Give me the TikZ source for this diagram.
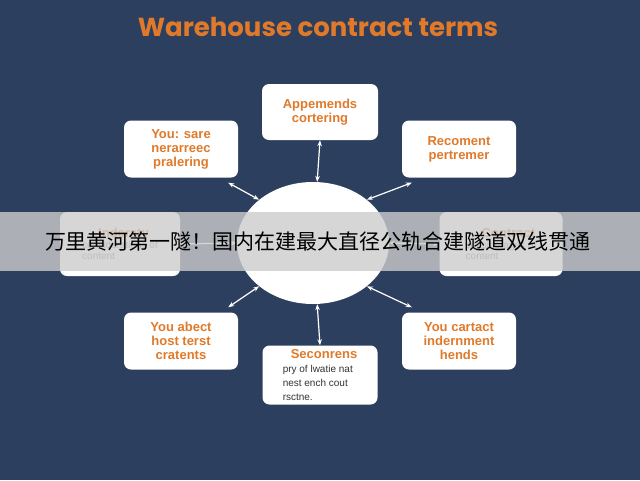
\documentclass[tikz,border=0pt]{standalone}
\usepackage{fontspec}
\setmainfont{Liberation Sans}
\newfontfamily\titlefont{Poppins}
\newfontfamily\cjk{Noto Sans CJK SC}
\usetikzlibrary{arrows.meta,shapes.geometric}
\definecolor{navy}{HTML}{2D3F5E}
\definecolor{org}{HTML}{E07A2A}
\definecolor{dk}{HTML}{333333}
\begin{document}
\begin{tikzpicture}[x=1pt,y=-1pt,
 box/.style={draw=none,fill=white,rounded corners=7pt,align=center,font=\bfseries\fontsize{13}{14}\selectfont,text=org,inner sep=0pt},
 link/.style={white,line width=1.2pt,{Stealth[length=6pt]}-{Stealth[length=6pt]}}]
\fill[navy] (0,0) rectangle (640,480);
\useasboundingbox (0,0) rectangle (640,480);
\node[font=\titlefont\bfseries\fontsize{26}{28}\selectfont,text=org] (title) at (318,27) {Warehouse contract terms};
\node[fill=white,ellipse,minimum width=152,minimum height=122,inner sep=0pt,draw=none] (c) at (313,243) {};
\node[box,minimum width=116,minimum height=56] (t) at (320,112) {Appemends\\cortering};
\node[box,minimum width=114,minimum height=57] (tl) at (181,149) {You: sare\\nerarreec\\pralering};
\node[box,minimum width=114,minimum height=57] (tr) at (459,149) {Recoment\\pertremer};
\node[box,minimum width=120,minimum height=64,align=left,font=\fontsize{10}{11}\selectfont] (l) at (120,244) {\hspace*{16pt}{\bfseries\fontsize{13}{14}\selectfont Inderaty}\\\textcolor{gray}{considerations of}\\\textcolor{gray}{content}};
\node[box,minimum width=123,minimum height=64,align=left,font=\fontsize{10}{11}\selectfont] (r) at (501,244) {\hspace*{16pt}{\bfseries\fontsize{13}{14}\selectfont Contract}\\\textcolor{gray}{considerages of}\\\textcolor{gray}{content}};
\node[box,minimum width=114,minimum height=57] (bl) at (181,341) {You abect\\host terst\\cratents};
\node[box,minimum width=114,minimum height=57] (br) at (459,341) {You cartact\\indernment\\hends};
\node[box,minimum width=115,minimum height=59,align=left] (b) at (320,375) {\hspace*{8pt}Seconrens\\{\normalfont\fontsize{10}{11}\selectfont\color{dk}pry of lwatie nat}\\{\normalfont\fontsize{10}{11}\selectfont\color{dk}nest ench cout}\\{\normalfont\fontsize{10}{11}\selectfont\color{dk}rsctne.}};
\draw[link] (t.south) -- (c);
\path (tl.south east) ++(-10,5) coordinate (a1);
\path (tr.south west) ++(10,5) coordinate (a2);
\path (bl.north east) ++(-10,-5) coordinate (a3);
\path (br.north west) ++(10,-5) coordinate (a4);
\draw[link] (a1) -- (c.north west);
\draw[link] (a2) -- (c.north east);
\draw[link] (a3) -- (c.south west);
\draw[link] (a4) -- (c.south east);
\draw[link] (b.north) -- (c);
\draw[link] (l.east) -- (c.west);
\draw[link] (r.west) -- (c.east);
\fill[gray!40,opacity=0.8] (0,212) rectangle (640,271);
\node[font=\cjk\fontsize{21}{22}\selectfont,text=black] (ban) at (318,242) {万里黄河第一隧！国内在建最大直径公轨合建隧道双线贯通};
\end{tikzpicture}
\end{document}
